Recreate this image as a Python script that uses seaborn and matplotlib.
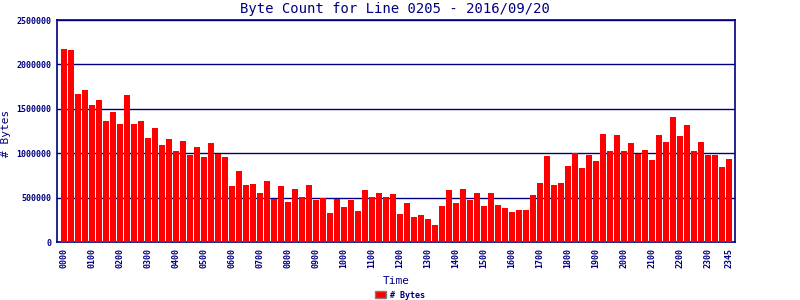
import matplotlib
matplotlib.use("Agg")
import matplotlib.pyplot as plt
import seaborn as sns
import pandas as pd
from matplotlib.patches import Patch

times = [f"{h:02d}{m:02d}" for h in range(24) for m in (0, 15, 30, 45)]
byte_counts = [
    2172000, 2160000, 1666000, 1711000, 1543000, 1599000, 1363000, 1464000,
    1329000, 1655000, 1329000, 1363000, 1172000, 1284000, 1093000, 1161000,
    1026000, 1138000, 981000, 1071000, 958000, 1116000, 992000, 958000,
    633000, 801000, 644000, 655000, 554000, 689000, 487000, 633000,
    453000, 599000, 509000, 644000, 475000, 498000, 329000, 487000,
    397000, 475000, 352000, 588000, 509000, 554000, 509000, 543000,
    318000, 442000, 284000, 307000, 262000, 194000, 408000, 588000,
    442000, 599000, 475000, 554000, 408000, 554000, 419000, 385000,
    340000, 363000, 363000, 531000, 666000, 970000, 644000, 666000,
    857000, 1003000, 835000, 981000, 914000, 1217000, 1026000, 1206000,
    1026000, 1116000, 992000, 1037000, 925000, 1206000, 1127000, 1408000,
    1194000, 1318000, 1026000, 1127000, 981000, 981000, 846000, 936000,
]
tick_labels = [t for i, t in enumerate(times) if i % 4 == 0] + ["2345"]
tick_pos = [i for i in range(len(times)) if i % 4 == 0] + [len(times) - 1]
yticks = [0, 500000, 1000000, 1500000, 2000000, 2500000]

navy = "#000080"
mono = "DejaVu Sans Mono"

df = pd.DataFrame({"Time": times, "Bytes": byte_counts})

sns.set_style("white")
fig = plt.figure(figsize=(8, 3), dpi=100)
ax = fig.add_axes([57 / 800, 1 - 242 / 300, (735 - 57) / 800, (242 - 20) / 300])

sns.barplot(data=df, x="Time", y="Bytes", color="#ff0000", saturation=1,
            width=0.86, linewidth=0, edgecolor="none", ax=ax, zorder=3)

ax.set_xlim(-1, 95.86)
ax.set_ylim(0, 2500000)
ax.set_yticks(yticks)
ax.set_yticklabels([str(v) for v in yticks], fontfamily=mono,
                   fontweight="bold", fontsize=6, color=navy)
ax.set_xticks(tick_pos)
ax.set_xticklabels(tick_labels, rotation=90, fontfamily=mono,
                   fontweight="bold", fontsize=6, color=navy)
ax.tick_params(axis="y", length=2, width=1, color=navy, pad=2)
ax.tick_params(axis="x", length=0, pad=4)
for y in yticks[1:]:
    ax.axhline(y, color=navy, lw=1, zorder=1)
for s in ax.spines.values():
    s.set_color(navy)
    s.set_linewidth(1.2)
    s.set_visible(True)

ax.set_xlabel("Time", fontfamily=mono, fontsize=8, color=navy, labelpad=6)
ax.set_ylabel("# Bytes", fontfamily=mono, fontsize=8, color=navy)
ax.yaxis.set_label_coords((11 - 57) / 678, 0.49)
fig.suptitle("Byte Count for Line 0205 - 2016/09/20", fontfamily=mono,
             fontsize=10, color=navy, x=395 / 800, y=0.995)

handle = Patch(facecolor="#ff0000", edgecolor="gray", linewidth=1)
leg = fig.legend([handle], ["# Bytes"], loc="center", bbox_to_anchor=(400 / 800, 1 - 295 / 300),
                 frameon=False, prop={"family": mono, "weight": "bold", "size": 6},
                 handlelength=1.3, handleheight=0.9, handletextpad=0.4)
for t in leg.get_texts():
    t.set_color(navy)

fig.savefig("out.png", dpi=100)
